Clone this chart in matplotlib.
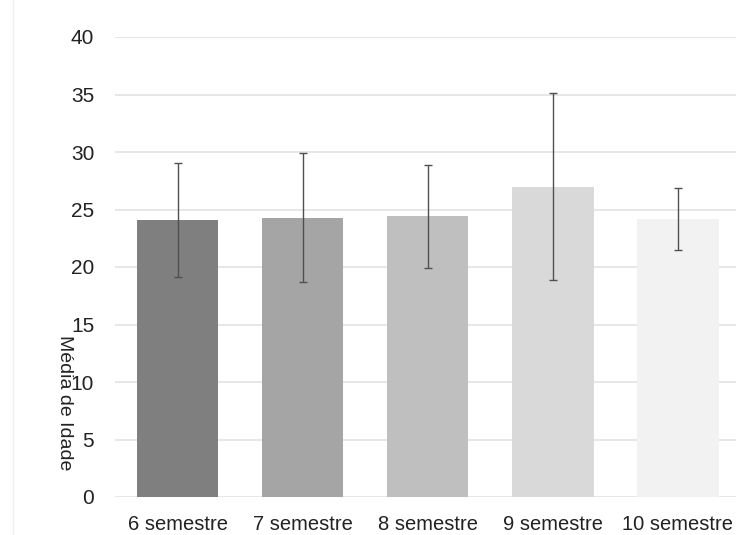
import matplotlib
matplotlib.use("Agg")
import matplotlib.pyplot as plt

categories = ["6 semestre", "7 semestre", "8 semestre", "9 semestre", "10 semestre"]
means = [24.1, 24.3, 24.4, 27.0, 24.2]
errors = [4.95, 5.6, 4.5, 8.1, 2.7]
colors = ["#7f7f7f", "#a5a5a5", "#bfbfbf", "#d9d9d9", "#f2f2f2"]
yticks = [0, 5, 10, 15, 20, 25, 30, 35, 40]

plt.rcParams['font.family'] = ['Liberation Sans', 'DejaVu Sans']

fig = plt.figure(figsize=(7.36, 5.35), dpi=100)
ax = fig.add_axes([115/736, 1-497/535, (740.5-115)/736, (497-37)/535])

x = list(range(len(categories)))
ax.bar(x, means, width=0.65, color=colors, zorder=2)
ax.errorbar(x, means, yerr=errors, fmt='none', ecolor='#505050', elinewidth=1.0,
            capsize=3, capthick=1.0, zorder=3)

ax.set_xlim(-0.5, len(categories) - 0.5)
ax.set_ylim(0, 40)
ax.set_yticks(yticks)
ax.set_xticks(x)
ax.set_xticklabels(categories)
ax.grid(axis='y', color='#e3e3e3', linewidth=1.2, zorder=0)
ax.set_axisbelow(True)
for s in ax.spines.values():
    s.set_visible(False)
ax.tick_params(axis='both', length=0, colors='#222222')
ax.tick_params(axis='y', pad=15, labelsize=15)
ax.tick_params(axis='x', pad=13, labelsize=14.5)

fig.text(64/736, 1-403/535, "Média de Idade", rotation=270, ha='center', va='center',
         fontsize=14, color='#222222')
fig.add_artist(plt.Line2D([13/736, 13/736], [0, 1], color='#f0f0f0', linewidth=1))

fig.savefig("out.png", dpi=100)
